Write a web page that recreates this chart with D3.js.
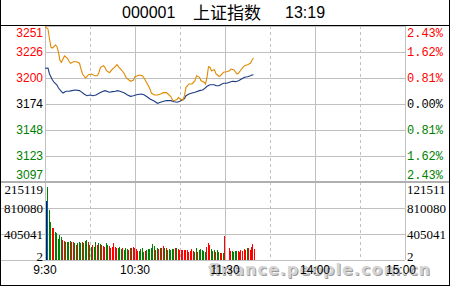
<!DOCTYPE html>
<html>
<head>
<meta charset="utf-8">
<script src="https://cdn.jsdelivr.net/npm/d3@7"></script>
<style>
    body { margin: 0; background: #fff; }
    svg { display: block; }
</style>
</head>
<body>
<div id="chart"></div>
<script>
// header
const code = '000001';
const name = '上证指数';
const clock = '13:19';

// previous close and axis labels
const preClose = 3174.3;
const priceTicks = ['3251', '3226', '3200', '3174', '3148', '3123', '3097'];
const pctTicks = ['2.43%', '1.62%', '0.81%', '0.00%', '0.81%', '1.62%', '2.43%'];
const volTicksLeft = ['215119', '810080', '405041', '2'];
const volTicksRight = ['121511', '810080', '405041', '2'];
const timeLabels = ['9:30', '10:30', '11:30', '14:00', '15:00'];
const timeLabelMin = [0, 60, 120, 180, 240];
const volMax = 1215119;

// index line (minutes since 9:30, trading time)
const priceMin = [0, 2, 3, 4, 5, 7, 8, 9, 10, 11, 12, 13, 15, 16, 17, 19, 21, 23, 24, 25, 27, 28, 29, 31, 33, 35, 36, 37, 39, 40,
    41, 43, 45, 46, 48, 49, 51, 53, 54, 56, 57, 59, 60, 63, 65, 66, 68, 70, 71, 73, 75, 77, 79, 81, 82, 84, 85, 86, 88, 89,
    90, 92, 93, 94, 96, 98, 100, 101, 103, 104, 106, 107, 108, 109, 110, 111, 113, 114, 116, 117, 119, 121, 123, 124, 126, 128, 129, 131, 133, 135,
    137, 138, 139];
const priceVal = [3251.0, 3248.5, 3238.6, 3230.4, 3229.7, 3232.7, 3231.0, 3225.4, 3217.1, 3215.5, 3218.8, 3221.8, 3219.5, 3216.5, 3214.6, 3216.1, 3216.1, 3214.6, 3208.9, 3204.0,
    3200.0, 3201.3, 3203.3, 3204.0, 3202.3, 3202.3, 3205.7, 3210.6, 3212.2, 3210.6, 3207.2, 3205.3, 3208.9, 3210.0, 3213.2, 3211.2, 3207.9, 3204.0, 3200.7, 3198.0,
    3196.8, 3198.0, 3201.3, 3203.0, 3202.3, 3200.0, 3194.8, 3189.1, 3184.9, 3183.2, 3183.2, 3184.2, 3185.5, 3185.5, 3184.2, 3181.5, 3178.3, 3177.6, 3178.8, 3180.9,
    3179.2, 3178.3, 3182.7, 3190.8, 3194.1, 3194.1, 3197.3, 3202.3, 3200.7, 3197.3, 3195.8, 3194.1, 3200.7, 3211.2, 3210.6, 3207.2, 3208.2, 3204.0, 3201.7, 3202.3,
    3205.7, 3206.2, 3207.2, 3208.9, 3208.0, 3204.0, 3204.7, 3208.9, 3212.2, 3213.2, 3214.6, 3217.8, 3219.8];

// second (blue) line
const avgMin = [0, 2, 3, 5, 6, 8, 9, 11, 12, 14, 16, 18, 20, 23, 24, 26, 28, 30, 32, 34, 36, 38, 40, 43, 45, 47, 48, 50, 53, 55,
    57, 59, 61, 64, 66, 68, 70, 73, 75, 77, 79, 81, 84, 86, 88, 90, 93, 94, 96, 98, 100, 103, 105, 106, 108, 110, 113, 114, 116, 117,
    119, 121, 123, 125, 127, 129, 131, 133, 135, 137, 138, 139];
const avgVal = [3209.6, 3209.9, 3204.0, 3198.0, 3195.8, 3193.1, 3190.1, 3186.5, 3185.2, 3186.9, 3186.9, 3187.5, 3188.1, 3187.5, 3186.5, 3184.2, 3182.5, 3183.2, 3182.5, 3183.2,
    3184.9, 3186.5, 3187.5, 3185.9, 3186.5, 3186.9, 3187.5, 3186.9, 3185.2, 3183.2, 3181.9, 3182.5, 3183.5, 3184.2, 3183.5, 3181.5, 3179.2, 3177.0, 3175.0, 3176.0,
    3177.0, 3177.6, 3177.6, 3176.6, 3176.0, 3177.0, 3179.7, 3182.5, 3184.2, 3185.2, 3185.9, 3187.5, 3188.1, 3189.1, 3191.8, 3193.4, 3193.4, 3192.4, 3192.4, 3193.4,
    3194.8, 3194.8, 3195.8, 3196.8, 3196.4, 3197.3, 3199.0, 3200.7, 3201.3, 3202.3, 3203.0, 3203.2];

// volume per minute, and direction (1 up / red, -1 down / green, 0 open / blue)
const volumes = [924000, 1142000, 779000, 597000, 503000, 503000, 441000, 416000, 322000, 390000,
    363000, 312000, 296000, 285000, 285000, 285000, 301000, 285000, 276000, 260000,
    234000, 260000, 276000, 260000, 285000, 260000, 296000, 312000, 285000, 234000,
    207000, 234000, 207000, 285000, 234000, 270000, 249000, 234000, 218000, 207000,
    260000, 234000, 218000, 192000, 198000, 260000, 207000, 182000, 192000, 207000,
    176000, 182000, 156000, 192000, 167000, 156000, 182000, 182000, 207000, 182000,
    167000, 145000, 145000, 167000, 182000, 129000, 145000, 156000, 167000, 171000,
    182000, 249000, 218000, 156000, 182000, 167000, 182000, 192000, 218000, 182000,
    182000, 156000, 167000, 156000, 167000, 167000, 182000, 192000, 167000, 156000,
    156000, 156000, 156000, 156000, 156000, 129000, 145000, 167000, 145000, 129000,
    182000, 129000, 156000, 167000, 156000, 140000, 129000, 207000, 270000, 234000,
    167000, 140000, 156000, 129000, 156000, 129000, 114000, 114000, 114000, 374000,
    0, 0, 192000, 145000, 140000, 129000, 140000, 145000, 140000, 129000,
    156000, 145000, 167000, 156000, 182000, 182000, 156000, 207000, 245000, 167000];
const volDir = [0, -1, -1, -1, 1, 1, -1, -1, -1, -1,
    -1, 1, 1, -1, -1, -1, -1, 1, 1, -1,
    1, -1, -1, -1, 1, -1, -1, -1, 1, -1,
    -1, 1, -1, -1, 1, -1, -1, 1, 1, 1,
    -1, -1, 1, 1, 1, 1, 1, 1, -1, -1,
    -1, 1, -1, -1, -1, 1, -1, 1, 1, 1,
    1, 1, -1, -1, -1, -1, 1, -1, -1, -1,
    -1, -1, -1, 1, -1, 1, -1, 1, 1, -1,
    1, -1, -1, -1, -1, -1, 1, -1, 1, 1,
    1, 1, 1, 1, 1, 1, 1, 1, 1, -1,
    -1, 1, -1, -1, -1, -1, -1, 1, 1, 1,
    -1, -1, -1, 1, -1, -1, 1, 1, -1, 1,
    0, 0, 1, 1, -1, -1, -1, -1, 1, 1,
    1, 1, 1, 1, -1, 1, 1, 1, 1, 1];

const W = 450, H = 286;
const gridColor = '#c0c0c0';
const upColor = '#ff0000', downColor = '#008000';

const svg = d3.select('#chart')
    .append('svg')
    .attr('width', W)
    .attr('height', H)
    .style('background', '#fff');

// scales
const step = preClose * 0.0081;
const x = d3.scaleLinear().domain([0, 240]).range([45, 405]);
const y = d3.scaleLinear().domain([preClose - step * 3, preClose + step * 3]).range([182, 26]);
const yv = d3.scaleLinear().domain([0, volMax]).range([260, 182]);
const px = v => Math.round(v) + 0.5;

// grid
const grid = svg.append('g').attr('stroke', gridColor).attr('stroke-width', 1).attr('shape-rendering', 'crispEdges');

d3.range(-3, 4).forEach(k => {
    grid.append('line')
        .attr('x1', 45).attr('x2', 405)
        .attr('y1', px(y(preClose + k * step))).attr('y2', px(y(preClose + k * step)));
});

[volMax * 2 / 3, volMax / 3, 0].forEach(v => {
    grid.append('line')
        .attr('x1', 0).attr('x2', 405)
        .attr('y1', px(yv(v))).attr('y2', px(yv(v)));
});

d3.range(0, 241, 30).forEach(m => {
    grid.append('line')
        .attr('x1', px(x(m))).attr('x2', px(x(m)))
        .attr('y1', 26).attr('y2', 260)
        .attr('stroke-dasharray', m % 60 === 30 ? '3,3' : null);
});

// panel separator
svg.append('line')
    .attr('x1', 0).attr('x2', W)
    .attr('y1', 182).attr('y2', 182)
    .attr('stroke', '#b0b0b0').attr('stroke-width', 2)
    .attr('shape-rendering', 'crispEdges');

// frame
const frame = svg.append('g').attr('stroke', '#000').attr('shape-rendering', 'crispEdges');
frame.append('line').attr('x1', 0).attr('x2', W).attr('y1', 25.5).attr('y2', 25.5);
frame.append('line').attr('x1', 0.5).attr('x2', 0.5).attr('y1', 0).attr('y2', H);
frame.append('line').attr('x1', W - 0.5).attr('x2', W - 0.5).attr('y1', 0).attr('y2', H);
frame.append('line').attr('x1', 0).attr('x2', W).attr('y1', H - 0.5).attr('y2', H - 0.5);

// volume bars
svg.append('g')
    .attr('shape-rendering', 'crispEdges')
    .selectAll('rect')
    .data(volumes)
    .join('rect')
    .attr('x', (d, i) => Math.floor(x(i)) + 1)
    .attr('width', 1)
    .attr('y', d => Math.round(yv(d)))
    .attr('height', d => 260 - Math.round(yv(d)))
    .attr('fill', (d, i) => volDir[i] === 0 ? '#0000ff' : (volDir[i] > 0 ? upColor : downColor));

// index lines
const line = d3.line()
    .x(d => x(d[0]))
    .y(d => y(d[1]));

svg.append('path')
    .datum(avgMin.map((m, i) => [m, avgVal[i]]))
    .attr('d', line)
    .attr('fill', 'none')
    .attr('stroke', '#1e3c84')
    .attr('stroke-width', 1.1);

svg.append('path')
    .datum(priceMin.map((m, i) => [m, priceVal[i]]))
    .attr('d', line)
    .attr('fill', 'none')
    .attr('stroke', '#e08a00')
    .attr('stroke-width', 1.1);

// title
const title = svg.append('g').attr('fill', '#000');
title.append('text').attr('x', 122).attr('y', 18)
    .style('font', '16px "Liberation Sans", sans-serif').text(code);
title.append('text').attr('x', 193).attr('y', 19)
    .style('font', '17px "Noto Sans CJK SC", sans-serif').text(name);
title.append('text').attr('x', 285).attr('y', 18)
    .style('font', '16px "Liberation Sans", sans-serif').text(clock);

// price axis labels
const tickColor = i => i < 3 ? upColor : (i === 3 ? '#000' : downColor);
const labelY = i => Math.max(33, Math.min(175, y(preClose + (3 - i) * step)));

svg.append('g')
    .selectAll('text')
    .data(priceTicks)
    .join('text')
    .attr('x', 43)
    .attr('y', (d, i) => labelY(i))
    .attr('dy', '0.36em')
    .attr('text-anchor', 'end')
    .attr('fill', (d, i) => tickColor(i))
    .style('font', '12px "Liberation Sans", sans-serif')
    .text(d => d);

svg.append('g')
    .selectAll('text')
    .data(pctTicks)
    .join('text')
    .attr('x', 407)
    .attr('y', (d, i) => labelY(i))
    .attr('dy', '0.36em')
    .attr('fill', (d, i) => tickColor(i))
    .style('font', '12px "Liberation Mono", monospace')
    .text(d => d);

// volume axis labels
const volY = i => Math.max(189, Math.min(256, yv(volMax * (3 - i) / 3)));

svg.append('g')
    .selectAll('text')
    .data(volTicksLeft)
    .join('text')
    .attr('x', 43)
    .attr('y', (d, i) => volY(i))
    .attr('dy', '0.35em')
    .attr('text-anchor', 'end')
    .style('font', '13px "Liberation Serif", serif')
    .text(d => d);

svg.append('g')
    .selectAll('text')
    .data(volTicksRight)
    .join('text')
    .attr('x', 407)
    .attr('y', (d, i) => volY(i))
    .attr('dy', '0.35em')
    .style('font', '13px "Liberation Serif", serif')
    .text(d => d);

// watermark
const mark = svg.append('g').style('font', 'bold 16px "DejaVu Sans", sans-serif');
mark.append('text').attr('x', 209).attr('y', 276)
    .attr('textLength', 222).attr('fill', '#9a9a9a').text('finance.people.com.cn');
mark.append('text').attr('x', 208).attr('y', 275)
    .attr('textLength', 222).attr('fill', '#d4d4d4').text('finance.people.com.cn');

// time labels
svg.append('g')
    .selectAll('text')
    .data(timeLabels)
    .join('text')
    .attr('x', (d, i) => Math.min(x(timeLabelMin[i]), 401))
    .attr('y', 274)
    .attr('text-anchor', 'middle')
    .style('font', '12px "Liberation Sans", sans-serif')
    .text(d => d);
</script>
</body>
</html>
